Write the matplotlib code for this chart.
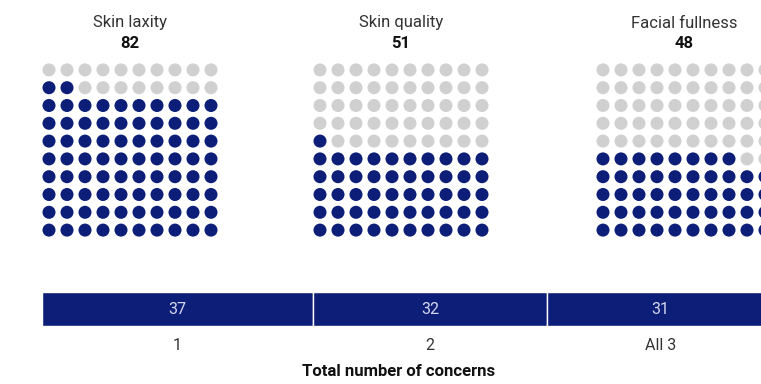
import numpy as np
import matplotlib
matplotlib.use("Agg")
import matplotlib.pyplot as plt

plt.rcParams['font.family'] = ['Roboto', 'DejaVu Sans']

# data
concerns = ["Skin laxity", "Skin quality", "Facial fullness"]
concern_counts = [82, 51, 48]
n_concerns = ["1", "2", "All 3"]
n_shares = [37, 32, 31]

NAVY = '#0d1e78'
GREY = '#d0d0d0'
W, H = 761, 384

fig = plt.figure(figsize=(W / 100, H / 100), dpi=100)


def px_axes(x0, y0, x1, y1):
    ax = fig.add_axes([x0 / W, 1 - y1 / H, (x1 - x0) / W, (y1 - y0) / H])
    ax.set_axis_off()
    return ax


def fx(x):
    return x / W


def fy(y):
    return 1 - y / H


# waffle grids (10x10, filled from bottom-left)
grid_left = [40, 311, 594]
cell = 18
for name, count, x0 in zip(concerns, concern_counts, grid_left):
    ax = px_axes(x0, 61, x0 + 10 * cell, 239)
    idx = np.arange(100)
    cols = idx % 10
    rows = idx // 10
    colors = [NAVY if i < count else GREY for i in idx]
    ax.scatter(cols, rows, s=88, c=colors, linewidths=0)
    ax.set_xlim(-0.5, 9.5)
    ax.set_ylim(-0.5, 9.5)
    cx = x0 + 5 * cell
    fig.text(fx(cx), fy(23), name, ha='center', va='center',
             fontsize=12, color='#333333')
    fig.text(fx(cx), fy(43), str(count), ha='center', va='center',
             fontsize=12, fontweight='bold', color='#111111')

# stacked bar of number of concerns
bar_x0, bar_x1 = 42, 774
bax = px_axes(bar_x0, 292, bar_x1, 326)
lefts = np.concatenate([[0], np.cumsum(n_shares)[:-1]])
bax.barh(0, n_shares, left=lefts, height=1, color=NAVY,
         edgecolor='white', linewidth=1)
total = sum(n_shares)
bax.set_xlim(0, total)
bax.set_ylim(-0.5, 0.5)
for lab, v, l in zip(n_concerns, n_shares, lefts):
    c = l + v / 2
    bax.text(c, 0, str(v), ha='center', va='center', fontsize=11.5,
             color='#d4d8ee')
    cx = bar_x0 + (bar_x1 - bar_x0) * c / total
    fig.text(fx(cx), fy(346), lab, ha='center', va='center', fontsize=11.5,
             color='#333333')

fig.text(fx(399), fy(372), "Total number of concerns", ha='center',
         va='center', fontsize=12, fontweight='bold', color='#111111')

fig.savefig("out.png", dpi=100, facecolor='white')
